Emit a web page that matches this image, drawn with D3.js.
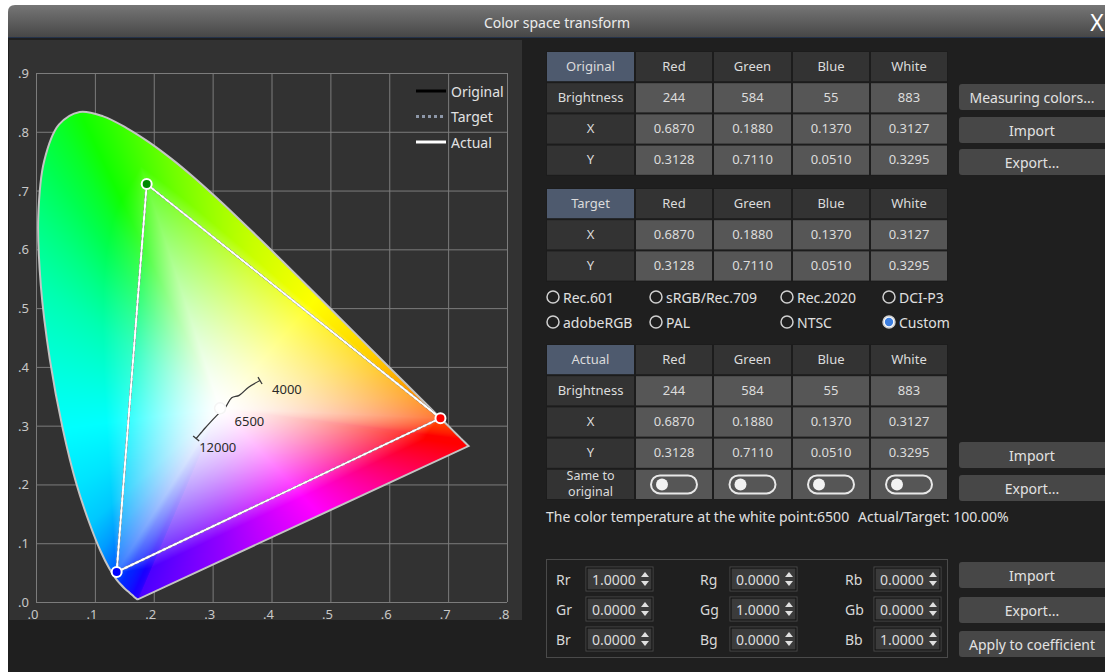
<!DOCTYPE html>
<html>
<head>
<meta charset="utf-8">
<title>Color space transform</title>
<script src="https://d3js.org/d3.v7.min.js"></script>
<style>
  body { margin: 0; background: #fff; overflow: hidden; }
  svg { display: block; font-family: "Noto Sans", "Open Sans", sans-serif; }
  .lbl { fill: #dcdcdc; font-size: 13px; }
</style>
</head>
<body>
<svg id="win" width="1105" height="672"></svg>
<script>
// CIE 1931 spectral locus (x, y) and its wavelengths
var locusNm = d3.range(380, 655, 5).concat([660, 680, 700]);
var locus = [[0.1741,0.0050],[0.1740,0.0050],[0.1738,0.0049],[0.1736,0.0049],[0.1733,0.0048],[0.1730,0.0048],
  [0.1726,0.0048],[0.1721,0.0048],[0.1714,0.0051],[0.1703,0.0058],[0.1689,0.0069],[0.1669,0.0086],[0.1644,0.0109],
  [0.1611,0.0138],[0.1566,0.0177],[0.1510,0.0227],[0.1440,0.0297],[0.1355,0.0399],[0.1241,0.0578],[0.1096,0.0868],
  [0.0913,0.1327],[0.0687,0.2007],[0.0454,0.2950],[0.0235,0.4127],[0.0082,0.5384],[0.0039,0.6548],[0.0139,0.7502],
  [0.0389,0.8120],[0.0743,0.8338],[0.1142,0.8262],[0.1547,0.8059],[0.1929,0.7816],[0.2296,0.7543],[0.2658,0.7243],
  [0.3016,0.6923],[0.3373,0.6589],[0.3731,0.6245],[0.4087,0.5896],[0.4441,0.5547],[0.4788,0.5202],[0.5125,0.4866],
  [0.5448,0.4544],[0.5752,0.4242],[0.6029,0.3965],[0.6270,0.3725],[0.6482,0.3514],[0.6658,0.3340],[0.6801,0.3197],
  [0.6915,0.3083],[0.7006,0.2993],[0.7079,0.2920],[0.7140,0.2859],[0.7190,0.2809],[0.7230,0.2770],[0.7260,0.2740],
  [0.7300,0.2700],[0.7347,0.2653],[0.7347,0.2653]];

// edge colours of the diagram fill, by wavelength, and along the line of purples (0 = red end, 1 = violet end)
var hueNm = [380, 440, 460, 470, 480, 490, 500, 510, 520, 540, 560, 575, 590, 605, 620, 645, 700];
var hueColor = ["#4a00ff", "#1800ff", "#0028ff", "#0070ff", "#00c8ff", "#00ffff", "#00ffb0", "#00ff50", "#10ff00",
  "#70ff00", "#c8ff00", "#ffff00", "#ffd000", "#ff9000", "#ff4800", "#ff0000", "#ff0000"];
var purplePos = [0, 0.15, 0.45, 0.75, 1];
var purpleColor = ["#ff0000", "#ff0050", "#ff00ff", "#9000ff", "#4a00ff"];

// Planckian locus: [K, x, y]
var planck = [[4000,0.3805,0.3768],[4500,0.3611,0.3654],[5000,0.3451,0.3516],[5500,0.3324,0.3474],
  [6000,0.3221,0.3318],[6500,0.3135,0.3236],[7000,0.3064,0.3166],[8000,0.2952,0.3048],
  [9000,0.2869,0.2956],[10000,0.2807,0.2884],[12000,0.2720,0.2782]];
var planckLabels = [4000, 6500, 12000];

var xTicks = [0, 0.1, 0.2, 0.3, 0.4, 0.5, 0.6, 0.7, 0.8];
var yTicks = [0, 0.1, 0.2, 0.3, 0.4, 0.5, 0.6, 0.7, 0.8, 0.9];

var columns = ["Red", "Green", "Blue", "White"];
var origBright = [244, 584, 55, 883];
var origX = [0.6870, 0.1880, 0.1370, 0.3127];
var origY = [0.3128, 0.7110, 0.0510, 0.3295];
var targX = [0.6870, 0.1880, 0.1370, 0.3127];
var targY = [0.3128, 0.7110, 0.0510, 0.3295];
var actBright = [244, 584, 55, 883];
var actX = [0.6870, 0.1880, 0.1370, 0.3127];
var actY = [0.3128, 0.7110, 0.0510, 0.3295];

var presets = ["Rec.601", "sRGB/Rec.709", "Rec.2020", "DCI-P3", "adobeRGB", "PAL", "NTSC", "Custom"];
var selectedPreset = "Custom";
var coefNames = [["Rr", "Rg", "Rb"], ["Gr", "Gg", "Gb"], ["Br", "Bg", "Bb"]];
var coefValues = [[1, 0, 0], [0, 1, 0], [0, 0, 1]];
var legendItems = ["Original", "Target", "Actual"];

var svg = d3.select("#win");

// ---- window chrome
var defs = svg.append("defs");
var tg = defs.append("linearGradient").attr("id", "titleGrad").attr("x1", 0).attr("y1", 0).attr("x2", 0).attr("y2", 1);
tg.append("stop").attr("offset", "0%").attr("stop-color", "#767676");
tg.append("stop").attr("offset", "100%").attr("stop-color", "#474747");

svg.append("rect").attr("x", 8).attr("y", 37).attr("width", 1100).attr("height", 640).attr("fill", "#1f1f1f");
svg.append("path").attr("d", "M8,37 V12 Q8,5 15,5 H1110 V37 Z").attr("fill", "url(#titleGrad)");
svg.append("line").attr("x1", 8).attr("x2", 1105).attr("y1", 37.5).attr("y2", 37.5).attr("stroke", "#24324a");
svg.append("text").attr("x", 557).attr("y", 22).attr("text-anchor", "middle").attr("dominant-baseline", "central")
  .attr("fill", "#ececec").style("font-size", "14px").text("Color space transform");
svg.append("text").attr("x", 1097).attr("y", 22).attr("text-anchor", "middle").attr("dominant-baseline", "central")
  .attr("fill", "#fff").style("font-size", "23px").text("X");

// ---- chart panel
svg.append("rect").attr("x", 9).attr("y", 40).attr("width", 513).attr("height", 580).attr("fill", "#323232");

var x = d3.scaleLinear().domain([0, 0.8]).range([36, 507]);
var y = d3.scaleLinear().domain([0, 0.9]).range([602, 73]);
var chart = svg.append("g");

// grid
chart.selectAll(".vg").data(xTicks).enter().append("line")
  .attr("x1", d => x(d) + 0.5).attr("x2", d => x(d) + 0.5).attr("y1", y(0)).attr("y2", y(0.9))
  .attr("stroke", "#7c7c7c").attr("stroke-width", 1);
chart.selectAll(".hg").data(yTicks).enter().append("line")
  .attr("y1", d => y(d) + 0.5).attr("y2", d => y(d) + 0.5).attr("x1", x(0)).attr("x2", x(0.8))
  .attr("stroke", "#7c7c7c").attr("stroke-width", 1);

var fmt = d => "." + Math.round(d * 10);
chart.selectAll(".xt").data(xTicks).enter().append("text")
  .attr("x", d => x(d) - 3).attr("y", 614).attr("text-anchor", "middle").attr("dominant-baseline", "central")
  .attr("fill", "#c8c8c8").style("font-size", "13px").text(fmt);
chart.selectAll(".yt").data(yTicks).enter().append("text")
  .attr("x", 18).attr("y", d => y(d)).attr("dominant-baseline", "central")
  .attr("fill", "#c8c8c8").style("font-size", "13px").text(fmt);

// chromaticity fill: fan from the white point, edge colour blended to white;
// lighter inside the gamut triangle, saturated between triangle and locus
var edgeScale = d3.scaleLinear().domain(hueNm).range(hueColor).interpolate(d3.interpolateRgb);
var purpleScale = d3.scaleLinear().domain(purplePos).range(purpleColor).interpolate(d3.interpolateRgb);
var segs = [];
for (var s = 0; s < locus.length - 1; s++) {
  segs.push({ a: locus[s], b: locus[s + 1], ca: d3.rgb(edgeScale(locusNm[s])), cb: d3.rgb(edgeScale(locusNm[s + 1])), purple: false });
}
segs.push({ a: locus[locus.length - 1], b: locus[0], purple: true });
var triSegs = [0, 1, 2].map(i => ({ a: [actX[i], actY[i]], b: [actX[(i + 1) % 3], actY[(i + 1) % 3]] }));

var wx = actX[3], wy = actY[3];
function hit(list, dx, dy) {
  var best = null;
  for (var q = 0; q < list.length; q++) {
    var sg = list[q];
    var ex = sg.b[0] - sg.a[0], ey = sg.b[1] - sg.a[1];
    var den = dx * ey - dy * ex;
    if (Math.abs(den) < 1e-12) continue;
    var ax = sg.a[0] - wx, ay = sg.a[1] - wy;
    var sP = (ax * ey - ay * ex) / den;
    var u = (ax * dy - ay * dx) / den;
    if (sP > 0 && u >= -1e-9 && u <= 1 + 1e-9 && (!best || sP < best.s)) best = { s: sP, u: u, sg: sg };
  }
  return best;
}
var x0 = Math.floor(x(0)), y0 = Math.floor(y(0.9));
var cw = Math.ceil(x(0.8)) - x0 + 1, ch = Math.ceil(y(0)) - y0 + 1;
var canvas = document.createElement("canvas");
canvas.width = cw; canvas.height = ch;
var ctx = canvas.getContext("2d");
var img = ctx.createImageData(cw, ch);
var kIn = 0.8;
for (var j = 0; j < ch; j++) {
  for (var i = 0; i < cw; i++) {
    var px = x.invert(x0 + i + 0.5), py = y.invert(y0 + j + 0.5);
    var dx = px - wx, dy = py - wy;
    var k = (j * cw + i) * 4;
    var best = hit(segs, dx, dy);
    if (!best) continue;
    var tb = hit(triSegs, dx, dy);
    var c;
    if (best.sg.purple) c = d3.rgb(purpleScale(best.u));
    else c = { r: best.sg.ca.r + (best.sg.cb.r - best.sg.ca.r) * best.u,
               g: best.sg.ca.g + (best.sg.cb.g - best.sg.ca.g) * best.u,
               b: best.sg.ca.b + (best.sg.cb.b - best.sg.ca.b) * best.u };
    var sat;
    if (!tb || tb.s >= best.s) sat = Math.min(1, 1 / best.s);
    else if (tb.s >= 1) sat = kIn * Math.pow(1 / tb.s, 1.4);
    else { var f = (1 - tb.s) / (best.s - tb.s); sat = kIn + (1 - kIn) * Math.min(1, f * 3); }
    img.data[k] = 255 + (c.r - 255) * sat;
    img.data[k + 1] = 255 + (c.g - 255) * sat;
    img.data[k + 2] = 255 + (c.b - 255) * sat;
    img.data[k + 3] = 255;
  }
}
ctx.putImageData(img, 0, 0);

var locusPath = d3.line().x(d => x(d[0])).y(d => y(d[1])).curve(d3.curveCatmullRom.alpha(0.5))(locus) + "Z";
defs.append("clipPath").attr("id", "locusClip").append("path").attr("d", locusPath);
chart.append("image").attr("x", x0).attr("y", y0).attr("width", cw).attr("height", ch)
  .attr("href", canvas.toDataURL()).attr("clip-path", "url(#locusClip)");
chart.append("path").attr("d", locusPath).attr("fill", "none").attr("stroke", "#c4c4c4").attr("stroke-width", 2);

// Planckian locus
var pl = planck.map(d => [x(d[1]), y(d[2])]);
chart.append("path").attr("d", d3.line().curve(d3.curveCatmullRom)(pl)).attr("fill", "none")
  .attr("stroke", "#3a3a3a").attr("stroke-width", 1.3);
[[0, 1], [pl.length - 1, pl.length - 2]].forEach(function (e) {
  var p = pl[e[0]], q = pl[e[1]];
  var ddx = p[0] - q[0], ddy = p[1] - q[1], len = Math.hypot(ddx, ddy);
  var nx = -ddy / len * 4, ny = ddx / len * 4;
  chart.append("line").attr("x1", p[0] - nx).attr("y1", p[1] - ny).attr("x2", p[0] + nx).attr("y2", p[1] + ny)
    .attr("stroke", "#3a3a3a").attr("stroke-width", 1.3);
});
var labelOff = { 4000: [12, 8], 6500: [14, 9], 12000: [3, 9] };
planckLabels.forEach(function (t) {
  var d = planck.find(p => p[0] === t);
  chart.append("text").attr("x", x(d[1]) + labelOff[t][0]).attr("y", y(d[2]) + labelOff[t][1])
    .attr("dominant-baseline", "central").attr("fill", "#2a2a2a").style("font-size", "13px").text(t);
});

// gamut triangles (R, G, B)
function tri(xs, ys) { return d3.line()([0, 1, 2].map(i => [x(xs[i]), y(ys[i])])) + "Z"; }
chart.append("path").attr("d", tri(origX, origY)).attr("fill", "none").attr("stroke", "#000").attr("stroke-width", 2);
chart.append("path").attr("d", tri(targX, targY)).attr("fill", "none").attr("stroke", "#a0a8b6")
  .attr("stroke-width", 2.6).attr("stroke-dasharray", "3,3");
chart.append("path").attr("d", tri(actX, actY)).attr("fill", "none").attr("stroke", "#fff").attr("stroke-width", 2);

// white point
chart.append("circle").attr("cx", x(actX[3])).attr("cy", y(actY[3])).attr("r", 5.5)
  .attr("fill", "#fff").attr("stroke", "#f4f4f4").attr("stroke-width", 1.5);
var primFill = ["#ff0000", "#008a00", "#0000ff"];
[0, 1, 2].forEach(function (i) {
  chart.append("circle").attr("cx", x(actX[i])).attr("cy", y(actY[i])).attr("r", 5)
    .attr("fill", primFill[i]).attr("stroke", "#fff").attr("stroke-width", 2);
});

// legend
var legStyle = [{ c: "#000", dash: null }, { c: "#8d97a8", dash: "3,3" }, { c: "#fff", dash: null }];
legendItems.forEach(function (name, i) {
  var ly = 91 + i * 25.5;
  chart.append("line").attr("x1", 416).attr("x2", 446).attr("y1", ly).attr("y2", ly)
    .attr("stroke", legStyle[i].c).attr("stroke-width", 3).attr("stroke-dasharray", legStyle[i].dash);
  chart.append("text").attr("x", 451).attr("y", ly).attr("dominant-baseline", "central")
    .attr("fill", "#e2e2e2").style("font-size", "14px").text(name);
});

// ---- tables
var colEdges = [546, 635, 713, 792, 870, 948];
function table(top, title, rows) {
  var g = svg.append("g");
  var rh = 31.2;
  var n = rows.length + 1;
  g.append("rect").attr("x", colEdges[0]).attr("y", top).attr("width", colEdges[5] - colEdges[0])
    .attr("height", rh * n).attr("fill", "#1c1c1c");
  for (var r = 0; r < n; r++) {
    for (var c = 0; c < 5; c++) {
      var cx0 = colEdges[c] + 1, cx1 = colEdges[c + 1] - 1, cy0 = top + r * rh + 1, cy1 = top + (r + 1) * rh - 1;
      var fill = (r === 0 && c === 0) ? "#4e5a6e" : (r === 0 || c === 0) ? "#333333" : "#565656";
      g.append("rect").attr("x", cx0).attr("y", cy0).attr("width", cx1 - cx0).attr("height", cy1 - cy0).attr("fill", fill);
      var mx = (cx0 + cx1) / 2, my = (cy0 + cy1) / 2 - 1;
      var label = r === 0 ? (c === 0 ? title : columns[c - 1]) : (c === 0 ? rows[r - 1][0] : rows[r - 1][1][c - 1]);
      if (label === "toggle") {
        g.append("rect").attr("x", mx - 23).attr("y", my - 8).attr("width", 46).attr("height", 18).attr("rx", 9)
          .attr("fill", "none").attr("stroke", "#e8e8e8").attr("stroke-width", 2);
        g.append("circle").attr("cx", mx - 12).attr("cy", my + 1).attr("r", 6).attr("fill", "#f2f2f2");
      } else if (Array.isArray(label)) {
        label.forEach(function (t, li) {
          g.append("text").attr("class", "lbl").attr("x", mx).attr("y", my + (li - 0.5) * 16)
            .attr("text-anchor", "middle").attr("dominant-baseline", "central").style("font-size", "12.5px").text(t);
        });
      } else {
        g.append("text").attr("class", "lbl").attr("x", mx).attr("y", my).attr("text-anchor", "middle")
          .attr("dominant-baseline", "central").text(label);
      }
    }
  }
}
var f4 = d3.format(".4f");
table(51, "Original", [["Brightness", origBright], ["X", origX.map(f4)], ["Y", origY.map(f4)]]);
table(188, "Target", [["X", targX.map(f4)], ["Y", targY.map(f4)]]);
table(344, "Actual", [["Brightness", actBright], ["X", actX.map(f4)], ["Y", actY.map(f4)],
  [["Same to", "original"], ["toggle", "toggle", "toggle", "toggle"]]]);

// presets (radio buttons)
var radioX = [553, 656, 787, 889];
presets.forEach(function (p, i) {
  var rx = radioX[i % 4], ry = i < 4 ? 297 : 322;
  svg.append("circle").attr("cx", rx).attr("cy", ry).attr("r", 6).attr("fill", p === selectedPreset ? "#fff" : "none")
    .attr("stroke", "#d0d0d0").attr("stroke-width", 1.5);
  if (p === selectedPreset) svg.append("circle").attr("cx", rx).attr("cy", ry).attr("r", 4.2).attr("fill", "#3d7fe0");
  svg.append("text").attr("x", rx + 10).attr("y", ry).attr("dominant-baseline", "central")
    .attr("fill", "#e0e0e0").style("font-size", "14px").text(p);
});

svg.append("text").attr("x", 546).attr("y", 516).attr("dominant-baseline", "central").attr("fill", "#e0e0e0")
  .style("font-size", "14px").text("The color temperature at the white point:6500");
svg.append("text").attr("x", 858).attr("y", 516).attr("dominant-baseline", "central").attr("fill", "#e0e0e0")
  .style("font-size", "14px").text("Actual/Target: 100.00%");

// coefficient group
svg.append("rect").attr("x", 546.5).attr("y", 559.5).attr("width", 401).attr("height", 98)
  .attr("fill", "none").attr("stroke", "#4a4a4a");
var coefLabelX = [556, 700, 845], boxX = [587, 731, 875], rowY = [579, 609, 639];
coefNames.forEach(function (row, ri) {
  row.forEach(function (name, ci) {
    var cy = rowY[ri], bx = boxX[ci];
    svg.append("text").attr("x", coefLabelX[ci]).attr("y", cy).attr("dominant-baseline", "central")
      .attr("fill", "#d8d8d8").style("font-size", "14px").text(name);
    svg.append("rect").attr("x", bx - 1.5).attr("y", cy - 12.5).attr("width", 68).attr("height", 25).attr("fill", "#4a4a4a");
    svg.append("rect").attr("x", bx).attr("y", cy - 11).attr("width", 65).attr("height", 22)
      .attr("fill", "#3b3b3b").attr("stroke", "#141414").attr("stroke-width", 1.2);
    svg.append("text").attr("x", bx + 5).attr("y", cy).attr("dominant-baseline", "central")
      .attr("fill", "#dcdcdc").style("font-size", "14px").text(f4(coefValues[ri][ci]));
    var ax = bx + 58;
    svg.append("path").attr("d", "M" + (ax - 4) + "," + (cy - 2) + " L" + ax + "," + (cy - 7) + " L" + (ax + 4) + "," + (cy - 2) + "Z").attr("fill", "#e0e0e0");
    svg.append("path").attr("d", "M" + (ax - 4) + "," + (cy + 2) + " L" + ax + "," + (cy + 7) + " L" + (ax + 4) + "," + (cy + 2) + "Z").attr("fill", "#e0e0e0");
  });
});

// buttons
var buttons = [["Measuring colors...", 84], ["Import", 117], ["Export...", 149], ["Import", 442], ["Export...", 475],
  ["Import", 562], ["Export...", 597], ["Apply to coefficient", 631]];
buttons.forEach(function (b) {
  svg.append("rect").attr("x", 959).attr("y", b[1]).attr("width", 150).attr("height", 26).attr("rx", 3).attr("fill", "#474747");
  svg.append("text").attr("x", 1032).attr("y", b[1] + 13).attr("text-anchor", "middle").attr("dominant-baseline", "central")
    .attr("fill", "#e2e2e2").style("font-size", "14px").text(b[0]);
});
</script>
</body>
</html>
